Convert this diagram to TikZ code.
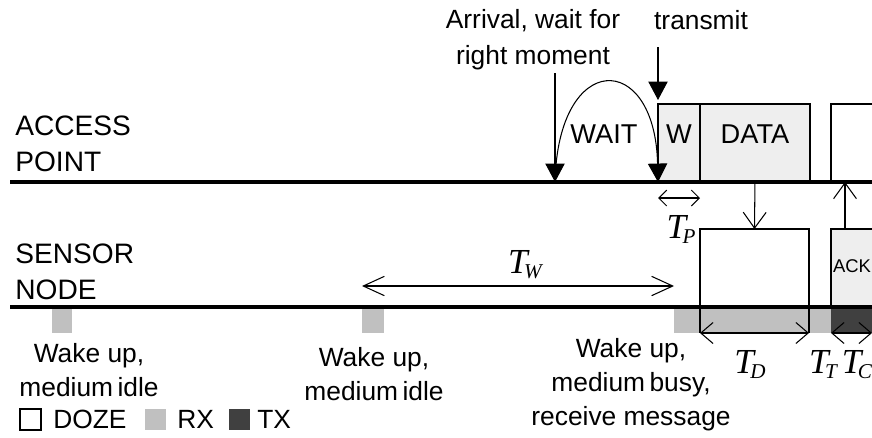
\documentclass[tikz,border=0pt]{standalone}
\usepackage{fontspec}
\setmainfont{Liberation Sans}
\newfontfamily\serifit{Liberation Serif}
\usetikzlibrary{arrows.meta,positioning,calc}
\definecolor{boxgray}{HTML}{EEEEEE}
\definecolor{rxgray}{HTML}{C0C0C0}
\definecolor{txgray}{HTML}{404040}
\newcommand{\durT}[1]{{\serifit\itshape T\kern-2pt\raisebox{-3pt}{\fontsize{12}{12}\selectfont #1}}}
\tikzset{
 lbl/.style={inner sep=0pt,font=\fontsize{15}{19.3}\selectfont},
 timeline/.style={line width=2.8pt},
 slot/.style={draw,line width=0.6pt,inner sep=0pt,outer sep=0pt,minimum height=1.56cm,anchor=south west,
   font=\fontsize{15.5}{18}\selectfont,text height=11pt,text depth=11pt},
 rxblk/.style={fill=rxgray,inner sep=0pt,outer sep=0pt,minimum height=0.52cm,anchor=north west},
 fillarrow/.style={line width=0.6pt,-{Triangle[length=10.5pt,width=11pt]}},
 barb/.style={line width=0.6pt,-{Straight Barb[length=9pt,width=13pt]}},
 dimline/.style={line width=0.6pt,{Straight Barb[length=7pt,width=12pt]}-{Straight Barb[length=7pt,width=12pt]}},
 durlab/.style={inner sep=0pt,anchor=base,font=\fontsize{20}{24}\selectfont},
 legbox/.style={inner sep=0pt,outer sep=0pt,minimum size=0.42cm}
}
\begin{document}
\begin{tikzpicture}[x=0.02cm,y=-0.02cm]
\useasboundingbox (0,0) rectangle (872,437);
% radio on below the node line
\node[rxblk,minimum width=0.4cm] (rx1) at (52,307) {};
\node[rxblk,minimum width=0.44cm] (rx2) at (362,307) {};
\node[rxblk,minimum width=3.14cm] (rx3) at (674,307) {};
\node[rxblk,fill=txgray,minimum width=0.82cm] (txb) at (831,307) {};
% frames
\node[slot,fill=boxgray,minimum width=0.84cm] (w) at (658,182) {W};
\node[slot,fill=boxgray,minimum width=2.2cm] (data) at (w.south east) {DATA};
\node[slot,fill=white,minimum width=0.84cm] (apend) at (831,182) {};
\node[slot,fill=white,minimum width=2.18cm] (sndata) at (data.south west |- 0,307) {};
\node[slot,fill=boxgray,minimum width=0.84cm,font=\fontsize{10.5}{12}\selectfont,text height=7pt,text depth=2pt] (ack) at (831,307) {ACK};
\coordinate (apL) at (10,182);\coordinate (apR) at (872,182);
\coordinate (snL) at (10,307);\coordinate (snR) at (872,307);
\draw[timeline](apL)--(apR);\draw[timeline](snL)--(snR);
\node[lbl,anchor=base west,align=left,font=\fontsize{16}{20.4}\selectfont] (ap) at (15,171) {ACCESS\\POINT};
\node[lbl,anchor=base west,align=left,font=\fontsize{16}{20.4}\selectfont] (sn) at (15,299) {SENSOR\\NODE};
% access point side
\node[lbl,anchor=base,align=center,font=\fontsize{15}{20}\selectfont] (arrival) at (533,64) {Arrival, wait for\\right moment};
\node[lbl,anchor=base] (transmit) at (701,29) {transmit};
\node[lbl,anchor=base,font=\fontsize{15.5}{18}\selectfont] (waitlbl) at (604,143) {WAIT};
\coordinate (arrtop) at (555,73);\coordinate (arrtip) at (555,182);
\coordinate (txtop) at (658,47);\coordinate (txtip) at (658,100);
\draw[fillarrow](arrtop)--(arrtip);\draw[fillarrow](txtop)--(txtip);
\draw[fillarrow](arrtip) .. controls (558,50) and (655,50) .. (w.south west);
\draw[barb](data.south)--(sndata.north);
\draw[barb]($(ack.north west)+(14,0)$)--($(apend.south west)+(14,0)$);
% durations
\draw[line width=0.6pt,{Straight Barb[length=4.5pt,width=9pt]}-{Straight Barb[length=4.5pt,width=9pt]}]($(w.south west)+(0,16)$)--($(w.south east)+(0,16)$);
\draw[line width=0.6pt,{Straight Barb[length=12pt,width=11pt]}-{Straight Barb[length=12pt,width=11pt]}]($(rx2.north west)+(0,-21)$)--($(rx3.north west)+(0,-21)$);
\draw[line width=0.6pt](sndata.south west)--(sndata.south west |- rx3.south)(sndata.south east)--(sndata.south east |- rx3.south);
\draw[dimline](sndata.south west |- rx3.south)--(sndata.south east |- rx3.south);
\draw[dimline](txb.south west)--(txb.south east);
\node[durlab] (tw) at (525,273) {\durT{W}};
\node[durlab] (tp) at (681,238) {\durT{P}};
\node[durlab] (td) at (750,373) {\durT{D}};
\node[durlab] (tt) at (823,373) {\durT{T}};
\node[durlab] (tc) at (857,373) {\durT{C}};
% wake ups
\node[lbl,anchor=base,align=center] (wake1) at (89,396) {Wake up,\\medium\,idle};
\node[lbl,anchor=base,align=center] (wake2) at (374,400) {Wake up,\\medium\,idle};
\node[lbl,anchor=base,align=center] (wake3) at (631,425) {Wake up,\\medium\,busy,\\receive message};
% legend
\node[legbox,draw,line width=0.6pt,fill=white] (lgdoze) at (30.5,419.5) {};
\node[lbl,right=0.24cm of lgdoze] (lgdozetxt) {DOZE};
\node[legbox,fill=rxgray] (lgrx) at (155.5,419.5) {};
\node[lbl,right=0.22cm of lgrx] (lgrxtxt) {RX};
\node[legbox,fill=txgray] (lgtx) at (239.5,419.5) {};
\node[lbl,right=0.14cm of lgtx] (lgtxtxt) {TX};
\end{tikzpicture}
\end{document}
